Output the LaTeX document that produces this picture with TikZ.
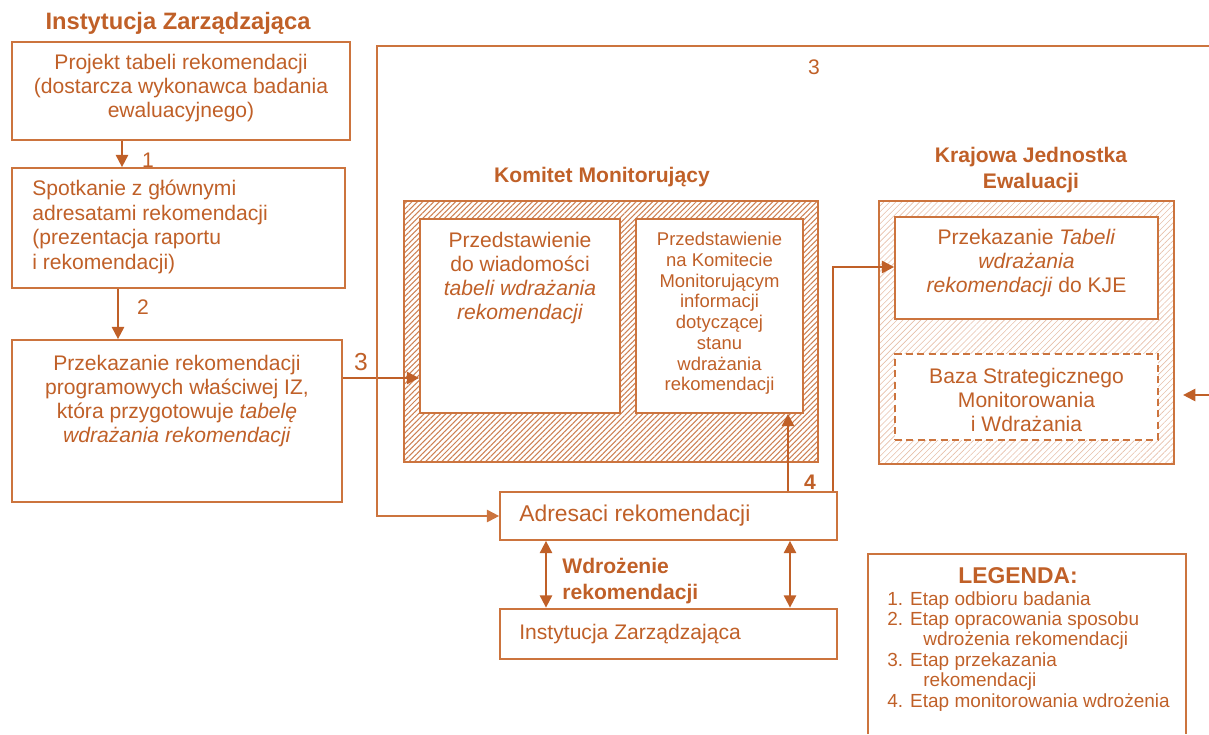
\documentclass[tikz,border=0pt]{standalone}
\usepackage{fontspec}
\setmainfont{Liberation Sans}
\usetikzlibrary{arrows.meta,patterns.meta}

\definecolor{ore}{RGB}{192,96,40}
\definecolor{oreline}{RGB}{204,116,62}

\tikzset{
  box/.style={draw=oreline, line width=1pt, fill=white, inner sep=0pt},
  txt/.style={text=ore, inner sep=0pt, align=center, font=\fontsize{12}{13.6}\selectfont},
  small/.style={txt, font=\fontsize{10.5}{11.8}\selectfont},
  head/.style={txt, font=\fontsize{12}{14.8}\selectfont\bfseries},
  num/.style={txt, font=\fontsize{12}{14}\selectfont},
  arr/.style={draw=ore, line width=1.1pt, -{Triangle[length=7pt,width=7pt]}},
  arrboth/.style={draw=ore, line width=1.1pt, {Triangle[length=7pt,width=7pt]}-{Triangle[length=7pt,width=7pt]}},
  link/.style={draw=oreline, line width=1pt},
  dense/.style={draw=oreline, line width=1pt, inner sep=0pt,
    pattern={Lines[angle=45,distance=2.2pt,line width=0.6pt]}, pattern color=ore!80},
  light/.style={draw=oreline, line width=1pt, inner sep=0pt,
    pattern={Lines[angle=45,distance=2.4pt,line width=0.35pt]}, pattern color=ore!40},
}

\begin{document}
\begin{tikzpicture}[x=0.02cm, y=-0.02cm]
    \useasboundingbox (0,0) rectangle (1209,734);

    % left column
    \node[head, font=\fontsize{13.5}{16}\selectfont\bfseries] (iztitle) at (178,23) {Instytucja Zarządzająca};
    \node[box, minimum width=6.76cm, minimum height=1.96cm] (proj) at (181,91) {};
    \node[txt] (projt) at (181,88) {Projekt tabeli rekomendacji\\(dostarcza wykonawca badania\\ewaluacyjnego)};
    \node[box, minimum width=6.66cm, minimum height=2.4cm] (spot) at (178.5,228) {};
    \node[txt, align=left, anchor=west, font=\fontsize{12}{14}\selectfont] (spott) at (32,227) {Spotkanie z głównymi\\adresatami rekomendacji\\(prezentacja raportu\\i rekomendacji)};
    \node[box, minimum width=6.6cm, minimum height=3.24cm] (przek) at (177,421) {};
    \node[txt, anchor=north] (przekt) at (177,355) {Przekazanie rekomendacji\\programowych właściwej IZ,\\która przygotowuje \textit{tabelę}\\\textit{wdrażania rekomendacji}};

    % komitet
    \node[head] (kmtitle) at (602,177) {Komitet Monitorujący};
    \node[dense, minimum width=8.28cm, minimum height=5.22cm] (km) at (611,331.5) {};
    \node[box, minimum width=4cm, minimum height=3.88cm] (kmwiad) at (520,316) {};
    \node[txt, anchor=north] (kmwiadt) at (520,232) {Przedstawienie\\do wiadomości\\\textit{tabeli wdrażania}\\\textit{rekomendacji}};
    \node[box, minimum width=3.34cm, minimum height=3.88cm] (kminfo) at (719.5,316) {};
    \node[small, anchor=north] (kminfot) at (719.5,232) {Przedstawienie\\na Komitecie\\Monitorującym\\informacji\\dotyczącej\\stanu\\wdrażania\\rekomendacji};

    % KJE
    \node[head] (kjetitle) at (1031,170) {Krajowa Jednostka\\Ewaluacji};
    \node[light, minimum width=5.9cm, minimum height=5.26cm] (kje) at (1026.5,332.5) {};
    \node[box, minimum width=5.26cm, minimum height=2.04cm] (kjetab) at (1026.5,268) {};
    \node[txt] (kjetabt) at (1026.5,263) {Przekazanie \textit{Tabeli}\\\textit{wdrażania}\\\textit{rekomendacji} do KJE};
    \node[box, dash pattern=on 4pt off 2.5pt, minimum width=5.26cm, minimum height=1.72cm] (baza) at (1026.5,397) {};
    \node[txt] (bazat) at (1026.5,400) {Baza Strategicznego\\Monitorowania\\i Wdrażania};

    % adresaci i IZ
    \node[box, minimum width=6.74cm, minimum height=0.96cm] (adr) at (668.5,516) {};
    \node[txt, anchor=west, font=\fontsize{13}{15}\selectfont] (adrt) at (519,516) {Adresaci rekomendacji};
    \node[box, line width=1.6pt, minimum width=6.74cm, minimum height=1cm] (iz) at (668.5,634) {};
    \node[txt, anchor=west] (izt) at (519,634) {Instytucja Zarządzająca};
    \node[head, align=left, anchor=west] (wdr) at (562,581) {Wdrożenie\\rekomendacji};

    % legenda
    \draw[link] (868,734) -- (868,554) -- (1186,554) -- (1186,734);
    \node[head, font=\fontsize{13}{15}\selectfont\bfseries] (legt) at (1018,576) {LEGENDA:};
    \node[txt, align=left, anchor=north west, font=\fontsize{10.8}{11.6}\selectfont] (legi) at (887,591) {1. Etap odbioru badania\\2. Etap opracowania sposobu\\\hspace*{1.9em}wdrożenia rekomendacji\\3. Etap przekazania\\\hspace*{1.9em}rekomendacji\\4. Etap monitorowania wdrożenia};

    % numery etapow
    \node[num] (n1) at (148,160) {1};
    \node[num] (n2) at (143,307) {2};
    \node[num, font=\fontsize{14}{16}\selectfont] (n3a) at (361,362) {3};
    \node[num] (n3b) at (814,67) {3};
    \node[num, font=\fontsize{12}{14}\selectfont\bfseries] (n4) at (810,482) {4};

    % strzalki
    \coordinate (c1) at (122,0);
    \coordinate (c2) at (118,0);
    \coordinate (r3) at (0,378);
    \coordinate (edge3) at (1209,46);
    \coordinate (corner) at (377,46);
    \coordinate (rin) at (1209,395);
    \coordinate (c4) at (788,0);
    \coordinate (c5) at (833,0);
    \coordinate (r5) at (0,267);
    \coordinate (c6) at (546,0);
    \coordinate (c7) at (790,0);

    \draw[arr] (proj.south -| c1) -- (spot.north -| c1);
    \draw[arr] (spot.south -| c2) -- (przek.north -| c2);
    \draw[arr] (przek.east |- r3) -- (kmwiad.west |- r3);
    \draw[arr, draw=oreline] (edge3) -- (corner) |- (adr.west);
    \draw[arr, shorten >=5pt] (rin) -- (rin -| kje.east);
    \draw[arr] (adr.north -| c4) -- (kminfo.south -| c4);
    \draw[arr] (adr.north -| c5) |- (kjetab.west |- r5);
    \draw[arrboth] (adr.south -| c6) -- (iz.north -| c6);
    \draw[arrboth] (adr.south -| c7) -- (iz.north -| c7);

\end{tikzpicture}
\end{document}
